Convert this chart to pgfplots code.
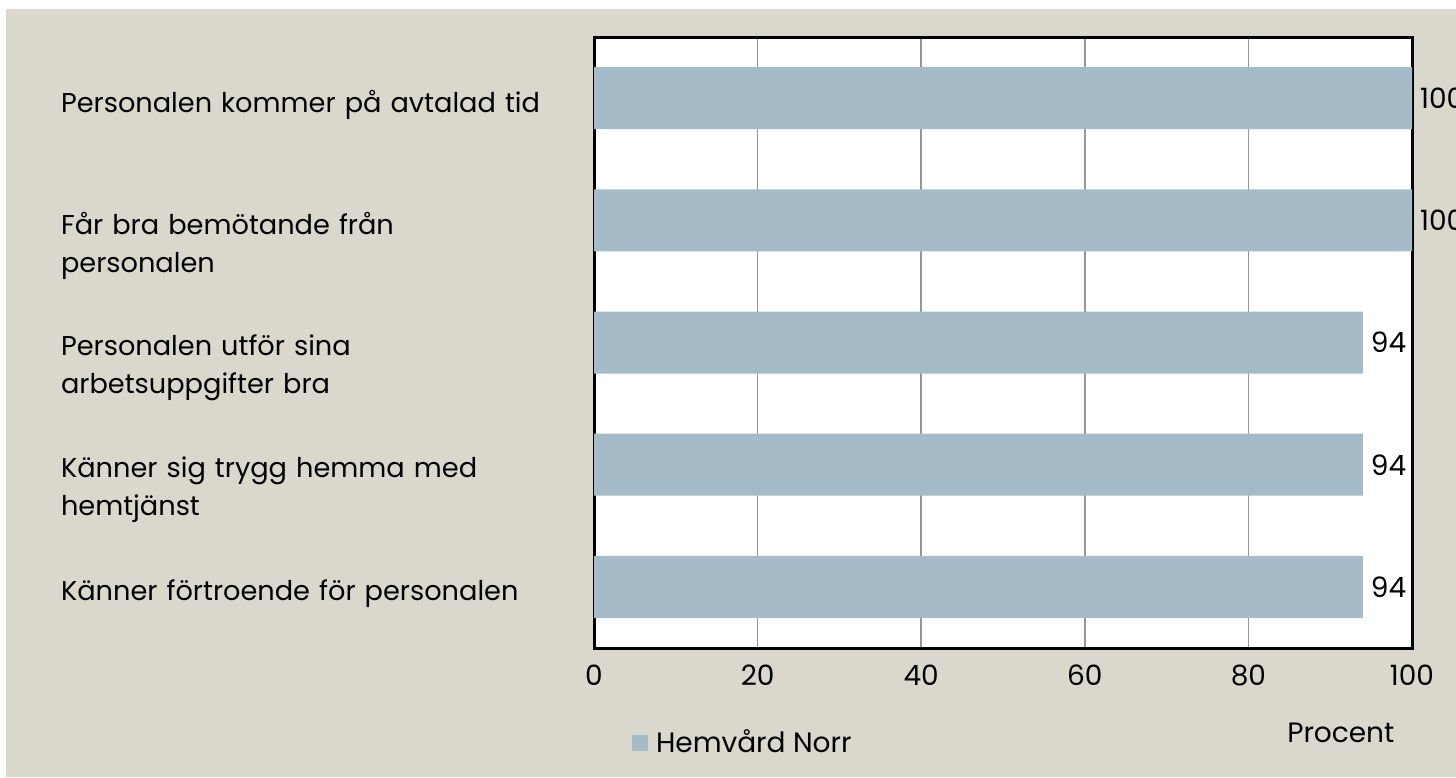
\documentclass[border=0pt]{standalone}
\usepackage{pgfplots}
\pgfplotsset{compat=1.18}
\usepackage{fontspec}
\setmainfont{Poppins}

\definecolor{bgbeige}{RGB}{218,216,204}
\definecolor{barcol}{RGB}{166,187,200}
\definecolor{gridcol}{RGB}{150,150,150}

\begin{document}
\begin{tikzpicture}
\useasboundingbox (0,0) rectangle (728pt,388.5pt);
\clip (0,0) rectangle (728pt,388.5pt);
\fill[white] (0,0) rectangle (728pt,388.5pt);
\fill[bgbeige] (3pt,0) rectangle (728pt,384pt);
\begin{axis}[
    at={(297pt,64.5pt)}, anchor=south west,
    scale only axis,
    width=409pt, height=305.5pt,
    xbar,
    bar width=31pt,
    xmin=0, xmax=100,
    ymin=-0.5, ymax=4.5,
    y dir=reverse,
    xtick={0,20,40,60,80,100},
    ytick={0,1,2,3,4},
    yticklabels={
        Personalen kommer på avtalad tid,
        Får bra bemötande från\\personalen,
        Personalen utför sina\\arbetsuppgifter bra,
        Känner sig trygg hemma med\\hemtjänst,
        Känner förtroende för personalen},
    /pgf/number format/assume math mode=true,
    tick style={draw=none},
    xmajorgrids,
    grid style={gridcol, line width=0.8pt},
    axis line style={black, line width=1.5pt},
    axis background/.style={fill=white},
    xticklabel style={font=\fontsize{14}{19}\selectfont, yshift=-5pt},
    yticklabel style={font=\fontsize{13.6}{19}\selectfont,
        text width=262pt, align=left, inner sep=0pt,
        anchor=north east, yshift=4pt},
    xlabel={Procent},
    xlabel style={font=\fontsize{14}{19}\selectfont, at={(rel axis cs:0.913,-0.139)}, anchor=center},
    nodes near coords,
    every node near coord/.append style={font=\fontsize{14}{19}\selectfont, anchor=west, xshift=0.5pt},
    legend style={draw=none, fill=none, inner sep=0pt, anchor=west,
        at={(rel axis cs:0.046,-0.155)},
        font=\fontsize{14}{19}\selectfont,
        /tikz/every odd column/.append style={column sep=2pt}},
    legend image code/.code={\fill[barcol] (0pt,-4pt) rectangle (8pt,4pt);},
]
\addplot[fill=barcol, draw=none] coordinates {
    (100,0) (100,1) (94,2) (94,3) (94,4)
};
\addlegendentry{Hemvård Norr}
\end{axis}
\end{tikzpicture}
\end{document}
